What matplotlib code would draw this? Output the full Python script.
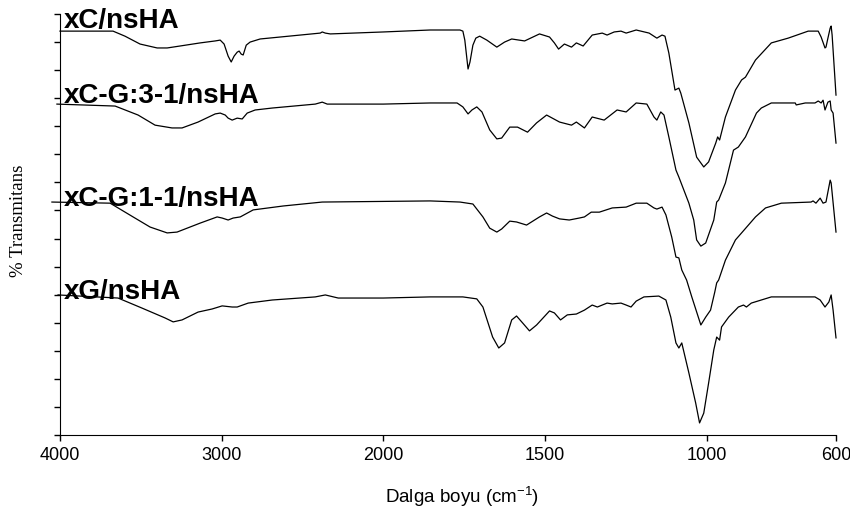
import numpy as np
import matplotlib
matplotlib.use("Agg")
import matplotlib.pyplot as plt
from matplotlib.ticker import FixedLocator, MultipleLocator

plt.rcParams["mathtext.fontset"] = "custom"
plt.rcParams["mathtext.rm"] = "Liberation Sans"
plt.rcParams["mathtext.it"] = "Liberation Sans:italic"

# FTIR spectra, stacked with an offset (arbitrary % T units)
wn_xc = [4000, 3672, 3598, 3505, 3399, 3337, 3257, 3133, 3040, 3009, 2985, 2960, 2941, 2923,
         2904, 2892, 2879, 2867, 2848, 2824, 2762, 2638, 2514, 2390, 2378, 2359, 2328, 2000,
         1855, 1763, 1754, 1748, 1738, 1732, 1723, 1714, 1702, 1680, 1649, 1625, 1603, 1563,
         1517, 1486, 1471, 1458, 1440, 1418, 1403, 1382, 1354, 1323, 1308, 1286, 1265, 1249,
         1218, 1178, 1154, 1138, 1129, 1117, 1098, 1086, 1080, 1055, 1031, 1009, 994, 972,
         966, 960, 942, 911, 892, 880, 849, 800, 748, 686, 655, 646, 634, 631, 625, 618,
         615, 612, 600]
t_xc = [143.9, 143.9, 142.1, 139.3, 137.9, 137.9, 138.6, 139.7, 140.4, 140.7, 139.3, 135.0, 132.9, 135.0,
        136.4, 136.8, 135.7, 135.4, 138.9, 140.0, 141.1, 141.8, 142.5, 143.2, 143.6, 143.2, 142.9, 143.6,
        144.3, 144.3, 143.9, 140.7, 130.4, 132.9, 138.9, 141.4, 142.1, 140.7, 138.2, 140.0, 141.1, 140.4,
        142.9, 141.8, 139.7, 137.5, 139.3, 138.2, 139.7, 138.6, 142.5, 143.2, 142.5, 143.6, 143.9, 143.2,
        144.3, 143.2, 141.4, 142.5, 142.1, 136.1, 122.9, 123.6, 121.8, 111.2, 99.0, 95.5, 97.3, 104.0,
        106.2, 105.1, 113.3, 122.9, 126.5, 127.5, 133.6, 139.7, 141.4, 143.9, 143.9, 141.8, 137.9, 138.2, 141.4, 145.0,
        145.7, 142.5, 121.1]

wn_31 = [4019, 3659, 3517, 3412, 3307, 3245, 3146, 3040, 3009, 2978, 2960, 2935, 2904, 2873,
         2842, 2793, 2687, 2421, 2378, 2347, 2000, 1855, 1772, 1754, 1738, 1726, 1711, 1695,
         1671, 1649, 1634, 1609, 1585, 1554, 1526, 1495, 1455, 1418, 1403, 1378, 1354, 1317,
         1277, 1249, 1218, 1185, 1163, 1154, 1142, 1132, 1117, 1095, 1086, 1055, 1040, 1031,
         1018, 1003, 978, 969, 963, 942, 917, 902, 880, 846, 831, 800, 726, 723, 695, 665,
         655, 646, 640, 634, 625, 618, 615, 609, 600]
t_31 = [117.9, 117.2, 114.0, 110.4, 109.4, 109.4, 111.5, 114.4, 114.7, 114.0, 112.9, 112.2, 112.9, 112.6,
        114.7, 115.8, 116.5, 117.9, 118.6, 117.9, 117.9, 118.3, 118.3, 116.9, 114.4, 115.8, 116.9, 115.1,
        108.7, 105.5, 105.8, 109.7, 109.7, 107.9, 111.2, 114.0, 111.5, 110.4, 111.5, 109.4, 113.3, 112.2,
        115.8, 115.1, 118.3, 117.9, 113.3, 112.2, 115.1, 114.0, 106.2, 94.4, 91.9, 82.6, 76.6, 69.5,
        67.3, 68.4, 76.6, 83.0, 83.7, 89.8, 101.5, 102.6, 106.2, 114.7, 116.5, 118.3, 118.3, 117.6, 118.3, 118.3,
        119.0, 118.3, 119.3, 115.8, 118.6, 119.0, 115.8, 114.7, 104.0]

wn_11 = [4050, 3690, 3548, 3443, 3337, 3276, 3133, 3028, 2997, 2960, 2929, 2885, 2805, 2619,
         2378, 1855, 1763, 1723, 1692, 1671, 1649, 1634, 1609, 1588, 1557, 1517, 1495, 1477,
         1455, 1425, 1394, 1378, 1357, 1332, 1292, 1249, 1218, 1185, 1163, 1154, 1138, 1126,
         1108, 1095, 1086, 1077, 1062, 1046, 1018, 1003, 988, 975, 969, 963, 942, 911, 892,
         849, 818, 769, 677, 671, 662, 649, 640, 631, 618, 615, 600]
t_11 = [83.0, 82.6, 77.7, 74.1, 72.0, 72.3, 75.5, 77.7, 77.3, 76.6, 77.3, 77.7, 80.2, 81.6,
        83.0, 83.4, 83.0, 82.3, 77.7, 73.7, 72.3, 73.4, 76.2, 75.9, 74.8, 77.7, 79.1, 78.0,
        77.0, 76.6, 77.3, 77.7, 79.4, 79.4, 80.9, 81.2, 82.6, 82.6, 80.9, 80.5, 81.2, 78.4,
        70.5, 63.4, 63.1, 58.8, 55.2, 49.2, 39.2, 42.0, 44.5, 50.9, 54.2, 55.2, 62.3, 69.5, 72.0,
        77.7, 80.9, 82.6, 83.0, 83.4, 82.6, 84.4, 82.6, 83.0, 90.8, 89.8, 72.3]

wn_xg = [4012, 3641, 3492, 3350, 3300, 3245, 3146, 3059, 2997, 2935, 2904, 2836, 2687, 2421,
         2359, 2279, 2000, 1855, 1754, 1711, 1692, 1662, 1643, 1625, 1603, 1588, 1569, 1548,
         1526, 1486, 1471, 1452, 1431, 1403, 1378, 1354, 1338, 1308, 1292, 1265, 1249, 1234,
         1218, 1194, 1148, 1126, 1111, 1095, 1086, 1077, 1055, 1034, 1022, 1009, 994, 978,
         969, 960, 954, 932, 902, 886, 877, 862, 800, 665, 649, 634, 622, 615, 609, 600]
t_xg = [49.9, 48.8, 45.2, 41.7, 40.3, 41.0, 43.8, 44.9, 46.0, 45.6, 45.6, 47.0, 48.1, 49.2,
        49.9, 48.8, 48.8, 49.2, 49.2, 48.5, 45.6, 34.9, 31.0, 32.8, 41.0, 42.4, 39.9, 37.1,
        39.2, 44.2, 43.5, 41.0, 42.8, 43.1, 44.5, 46.3, 45.6, 47.0, 46.7, 47.0, 46.3, 45.6,
        47.7, 49.2, 49.5, 48.1, 42.0, 32.8, 31.0, 32.8, 22.1, 11.4, 4.3, 7.8, 18.5, 30.3,
        34.9, 33.8, 38.5, 42.0, 45.6, 46.3, 45.6, 47.0, 49.2, 49.2, 48.1, 45.6, 47.4, 49.9, 44.5, 34.6]

names = ["xC/nsHA", "xC-G:3-1/nsHA", "xC-G:1-1/nsHA", "xG/nsHA"]
name_y = [145.0, 118.3, 81.6, 48.5]


# wavenumber axis is stretched x2 below 2000 cm-1
def fwd(w):
    w = np.asarray(w, dtype=float)
    return np.where(w > 2000, w + 2000, 2 * w)


def inv(u):
    u = np.asarray(u, dtype=float)
    return np.where(u > 4000, u - 2000, u / 2)


fig = plt.figure(figsize=(8.5, 5.12), dpi=100)
ax = fig.add_axes([60 / 850, 1 - 435 / 512, 776 / 850, 421 / 512])
ax.set_xscale("function", functions=(fwd, inv))

for wn, t in [(wn_xc, t_xc), (wn_31, t_31), (wn_11, t_11), (wn_xg, t_xg)]:
    ax.plot(wn, t, color="black", lw=0.9, clip_on=False)

for name, y in zip(names, name_y):
    ax.text(3975, y, name, fontsize=20, fontweight="bold", family="Liberation Sans",
            va="baseline", ha="left")

ax.set_xlim(4000, 600)
ax.set_ylim(0, 150)
ax.xaxis.set_major_locator(FixedLocator([4000, 3000, 2000, 1500, 1000, 600]))
ax.xaxis.set_minor_locator(FixedLocator([]))
ax.xaxis.set_major_formatter(plt.FuncFormatter(lambda v, p: "%d" % round(v)))
ax.yaxis.set_major_locator(MultipleLocator(10))
ax.set_yticklabels([])
ax.tick_params(axis="x", direction="out", length=4, width=1, labelsize=13, pad=5)
ax.tick_params(axis="y", direction="out", length=4, width=1)
for lab in ax.get_xticklabels():
    lab.set_family("Liberation Sans")

ax.spines["top"].set_visible(False)
ax.spines["right"].set_visible(False)

fig.text(462 / 850, 1 - 497 / 512, "Dalga boyu (cm$^{-1}$)", fontsize=13.5,
         family="Liberation Sans", ha="center", va="center")
fig.text(19 / 850, 1 - 221 / 512, "% Transmitans", fontsize=13.5,
         family="Liberation Serif", rotation=90, ha="center", va="center")

fig.savefig("out.png", dpi=100)
